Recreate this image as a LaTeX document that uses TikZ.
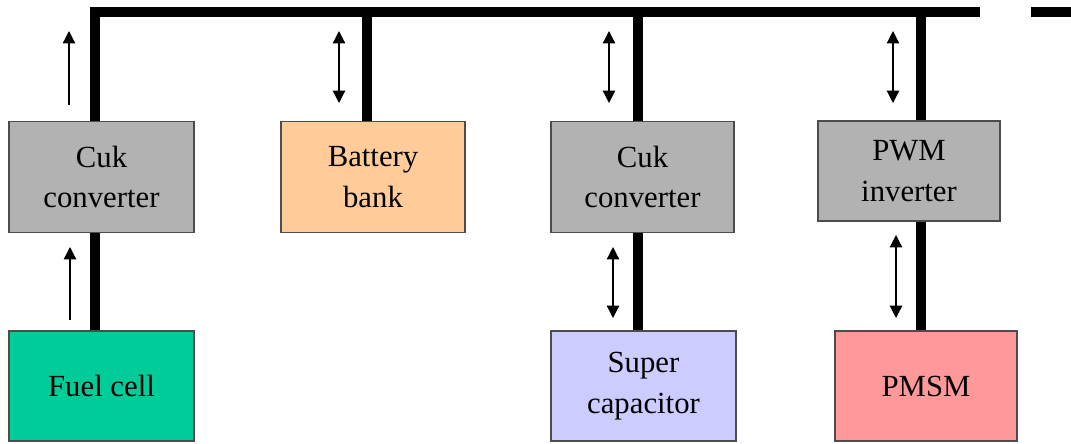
\documentclass[tikz,border=0pt]{standalone}
\usepackage{fontspec}
\setmainfont{Liberation Serif}
\usetikzlibrary{arrows.meta}

\definecolor{convgray}{RGB}{178,178,178}
\definecolor{battorange}{RGB}{255,204,153}
\definecolor{fcgreen}{RGB}{0,204,153}
\definecolor{scblue}{RGB}{204,204,255}
\definecolor{motorred}{RGB}{255,153,153}

\begin{document}
\begin{tikzpicture}[
    x=0.02cm, y=-0.02cm,
    box/.style={rectangle, draw=black!70, line width=0.7pt, align=center,
        minimum width=3.7cm, minimum height=2.22cm, inner sep=2pt,
        font=\fontsize{17.5}{23}\selectfont},
    bus/.style={line width=5.6pt},
    flow/.style={-{Triangle[length=7pt, width=7pt]}, line width=0.7pt},
    bothflow/.style={{Triangle[length=7pt, width=7pt]}-{Triangle[length=7pt, width=7pt]}, line width=0.7pt}
]
\useasboundingbox (0,0) rectangle (1071,443);

% Converter row
\node[box, fill=convgray] (cuk_fc) at (101.5, 177) {Cuk\\converter};
\node[box, fill=battorange, minimum width=3.68cm] (battery) at (373, 177) {Battery\\bank};
\node[box, fill=convgray, minimum width=3.66cm] (cuk_sc) at (642.5, 177) {Cuk\\converter};
\node[box, fill=convgray, minimum width=3.64cm, minimum height=2.0cm] (pwm) at (909, 171) {PWM\\inverter};

% Source and load row
\node[box, fill=fcgreen, minimum height=2.2cm] (fuel) at (101.5, 386) {Fuel cell};
\node[box, fill=scblue, minimum height=2.2cm] (supercap) at (643.5, 386) {Super\\capacitor};
\node[box, fill=motorred, minimum width=3.64cm, minimum height=2.2cm] (pmsm) at (926, 386) {PMSM};

% DC bus taps
\coordinate (tap_fc) at (95, 12);
\coordinate (tap_bat) at (367, 12);
\coordinate (tap_sc) at (638, 12);
\coordinate (tap_pwm) at (921, 12);
\coordinate (bus_end) at (980, 12);
\coordinate (stub_a) at (1031, 12);
\coordinate (stub_b) at (1071, 12);

% DC bus
\draw[bus] (cuk_fc.north -| tap_fc) |- (bus_end);
\draw[bus] (stub_a) -- (stub_b);
\draw[bus] (tap_bat) -- (battery.north -| tap_bat);
\draw[bus] (tap_sc) -- (cuk_sc.north -| tap_sc);
\draw[bus] (tap_pwm) -- (pwm.north -| tap_pwm);

% Lower links
\draw[bus] (cuk_fc.south -| tap_fc) -- (fuel.north -| tap_fc);
\draw[bus] (cuk_sc.south -| tap_sc) -- (supercap.north -| tap_sc);
\draw[bus] (pwm.south -| tap_pwm) -- (pmsm.north -| tap_pwm);

% Power flow arrows
\coordinate (fc_up_a) at (69, 105);
\coordinate (fc_up_b) at (69, 31);
\coordinate (fc_lo_a) at (70, 320);
\coordinate (fc_lo_b) at (70, 247);
\coordinate (bat_a) at (339, 31);
\coordinate (bat_b) at (339, 103);
\coordinate (sc_up_a) at (609, 31);
\coordinate (sc_up_b) at (609, 103);
\coordinate (sc_lo_a) at (613, 247);
\coordinate (sc_lo_b) at (613, 318);
\coordinate (pwm_up_a) at (893, 31);
\coordinate (pwm_up_b) at (893, 103);
\coordinate (pwm_lo_a) at (896, 235);
\coordinate (pwm_lo_b) at (896, 318);

\draw[flow] (fc_up_a) -- (fc_up_b);
\draw[flow] (fc_lo_a) -- (fc_lo_b);
\draw[bothflow] (bat_a) -- (bat_b);
\draw[bothflow] (sc_up_a) -- (sc_up_b);
\draw[bothflow] (sc_lo_a) -- (sc_lo_b);
\draw[bothflow] (pwm_up_a) -- (pwm_up_b);
\draw[bothflow] (pwm_lo_a) -- (pwm_lo_b);

\end{tikzpicture}
\end{document}
